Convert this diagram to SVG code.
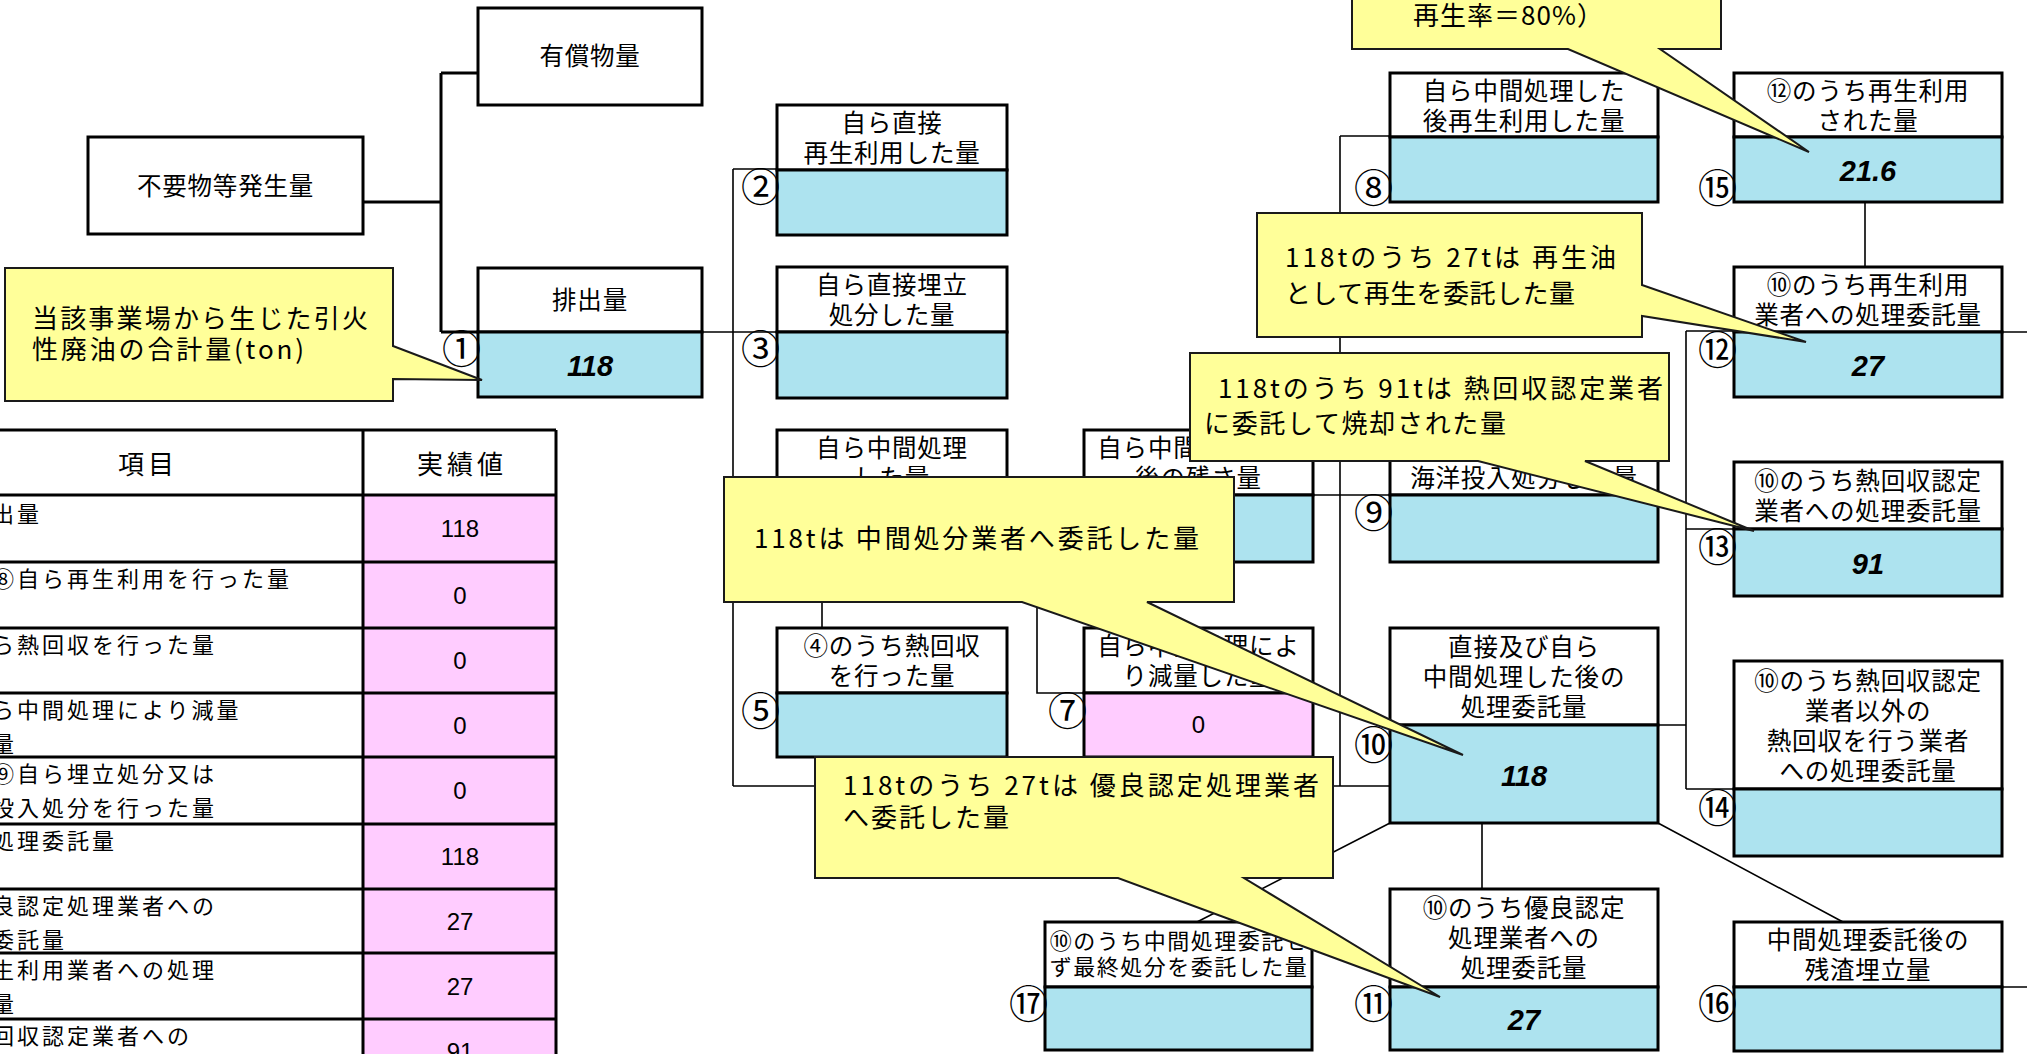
<svg xmlns="http://www.w3.org/2000/svg" width="2027" height="1054" viewBox="0 0 2027 1054">
<style>
.hd{fill:#fff;stroke:#000;stroke-width:3}
.vl{fill:#ADE3EF;stroke:#000;stroke-width:3}
.pk{fill:#FFCCFF;stroke:#000;stroke-width:3}
.c1{stroke:#000;stroke-width:1.6;fill:none}
.c3{stroke:#000;stroke-width:3;fill:none}
.co{fill:#FFFF99;stroke:#1a1a1a;stroke-width:2;stroke-linejoin:miter}
.t{font-family:"Noto Sans CJK JP","Liberation Sans",sans-serif;font-size:24.5px;letter-spacing:0.8px;text-anchor:middle;fill:#000}
.ts{font-family:"Noto Sans CJK JP","Liberation Sans",sans-serif;font-size:22px;letter-spacing:1.5px;text-anchor:middle;fill:#000}
.n{font-family:"Liberation Sans",Arial,sans-serif;font-size:29px;font-weight:bold;font-style:italic;text-anchor:middle;fill:#000}
.lb{font-family:"Noto Sans CJK JP",sans-serif;font-size:39px;text-anchor:end;fill:#000}
.ct{font-family:"Noto Sans CJK JP","Liberation Sans",sans-serif;font-size:26px;fill:#000}
.tb{font-family:"Noto Sans CJK JP",sans-serif;font-size:22px;letter-spacing:3px;fill:#000}
.th{font-family:"Noto Sans CJK JP",sans-serif;font-size:26px;letter-spacing:4px;text-anchor:middle;fill:#000}
.tv{font-family:"Liberation Sans",Arial,sans-serif;font-size:24px;text-anchor:middle;fill:#000}
</style>
<rect x="0" y="0" width="2027" height="1054" fill="#fff"/>

<g id="table">
<rect x="-80" y="430" width="443" height="630" fill="#fff"/>
<rect x="363" y="430" width="193" height="65" fill="#fff"/>
<rect x="363" y="495" width="193" height="565" fill="#FFCCFF"/>
<path stroke="#000" stroke-width="3" fill="none" d="M-80,430 H556 M-80,495 H556 M-80,562 H556 M-80,628 H556 M-80,693 H556 M-80,757 H556 M-80,824 H556 M-80,889 H556 M-80,953 H556 M-80,1019 H556 M363,430 V1060 M556,430 V1060"/>
<text class="th" x="148" y="474">項目</text>
<text class="th" x="462" y="474">実績値</text>
<text class="tb" x="-58" y="522">①排出量</text>
<text class="tb" x="-58" y="587">②＋⑧自ら再生利用を行った量</text>
<text class="tb" x="-58" y="653">⑤自ら熱回収を行った量</text>
<text class="tb" x="-58" y="718">⑦自ら中間処理により減量</text>
<text class="tb" x="-58" y="752">した量</text>
<text class="tb" x="-58" y="782">③＋⑨自ら埋立処分又は</text>
<text class="tb" x="-58" y="816">海洋投入処分を行った量</text>
<text class="tb" x="-33" y="849">⑩処理委託量</text>
<text class="tb" x="-58" y="914">⑪優良認定処理業者への</text>
<text class="tb" x="-58" y="948">処理委託量</text>
<text class="tb" x="-58" y="978">⑫再生利用業者への処理</text>
<text class="tb" x="-58" y="1012">委託量</text>
<text class="tb" x="-58" y="1044">⑬熱回収認定業者への</text>
<text class="tv" x="460" y="537">118</text>
<text class="tv" x="460" y="604">0</text>
<text class="tv" x="460" y="669">0</text>
<text class="tv" x="460" y="734">0</text>
<text class="tv" x="460" y="799">0</text>
<text class="tv" x="460" y="865">118</text>
<text class="tv" x="460" y="930">27</text>
<text class="tv" x="460" y="995">27</text>
<text class="tv" x="460" y="1060">91</text>
</g>

<g id="connectors">
<path class="c3" d="M363,202 H441 M441,73 V332 M441,73 H478 M441,332 H478"/>
<path class="c1" d="M702,332 H777 M733,169 V786 M733,169 H777 M733,495 H777 M733,786 H1390 M1007,495 H1084 M1037,495 V693 H1084 M822,562 V628"/>
<path class="c1" d="M1340,136 V786 M1340,136 H1390 M1313,495 H1390"/>
<path class="c1" d="M1658,725 H1686 M1686,331 V789 M1686,331 H1734 M1686,529 H1734 M1686,789 H1734 M1865,202 V267 M2002,332 H2027 M2002,987 H2027"/>
<path class="c1" d="M1482,823 V889 M1390,823 L1197,922 M1658,823 L1843,922"/>
</g>

<g id="node-yushobutsu"><rect class="hd" x="478" y="8" width="224" height="97"/><text class="t" x="590" y="65">有償物量</text></g>
<g id="node-fuyobutsu"><rect class="hd" x="88" y="137" width="275" height="97"/><text class="t" x="225.5" y="195">不要物等発生量</text></g>

<g id="node-1"><rect class="hd" x="478" y="268" width="224" height="64"/><rect class="vl" x="478" y="332" width="224" height="65"/>
<text class="t" x="590" y="309">排出量</text><text class="n" x="590" y="376">118</text><text class="lb" x="481" y="363">①</text></g>

<g id="node-2"><rect class="hd" x="777" y="105" width="230" height="65"/><rect class="vl" x="777" y="170" width="230" height="65"/>
<text class="t" x="892" y="132">自ら直接</text><text class="t" x="892" y="162">再生利用した量</text><text class="lb" x="780" y="201">②</text></g>

<g id="node-3"><rect class="hd" x="777" y="267" width="230" height="65"/><rect class="vl" x="777" y="332" width="230" height="66"/>
<text class="t" x="892" y="294">自ら直接埋立</text><text class="t" x="892" y="324">処分した量</text><text class="lb" x="780" y="363">③</text></g>

<g id="node-4"><rect class="hd" x="777" y="430" width="230" height="65"/><rect class="vl" x="777" y="495" width="230" height="67"/>
<text class="t" x="892" y="457">自ら中間処理</text><text class="t" x="892" y="487">した量</text></g>

<g id="node-5"><rect class="hd" x="777" y="628" width="230" height="65"/><rect class="vl" x="777" y="693" width="230" height="64"/>
<text class="t" x="892" y="655">④のうち熱回収</text><text class="t" x="892" y="685">を行った量</text><text class="lb" x="780" y="725">⑤</text></g>

<g id="node-6"><rect class="hd" x="1084" y="430" width="229" height="65"/><rect class="vl" x="1084" y="495" width="229" height="67"/>
<text class="t" x="1198.5" y="457">自ら中間処理した</text><text class="t" x="1198.5" y="487">後の残さ量</text></g>

<g id="node-7"><rect class="hd" x="1084" y="628" width="229" height="65"/><rect class="pk" x="1084" y="693" width="229" height="64"/>
<text class="t" x="1198.5" y="655">自ら中間処理によ</text><text class="t" x="1198.5" y="685">り減量した量</text><text class="tv" x="1198.5" y="733">0</text><text class="lb" x="1087" y="725">⑦</text></g>

<g id="node-17"><rect class="hd" x="1045" y="922" width="267" height="65"/><rect class="vl" x="1045" y="987" width="267" height="63"/>
<text class="ts" x="1179" y="949">⑩のうち中間処理委託せ</text><text class="ts" x="1179" y="975">ず最終処分を委託した量</text><text class="lb" x="1048" y="1018">⑰</text></g>

<g id="node-8"><rect class="hd" x="1390" y="73" width="268" height="64"/><rect class="vl" x="1390" y="137" width="268" height="65"/>
<text class="t" x="1524" y="99.5">自ら中間処理した</text><text class="t" x="1524" y="129.5">後再生利用した量</text><text class="lb" x="1393" y="202">⑧</text></g>

<g id="node-9"><rect class="hd" x="1390" y="430" width="268" height="65"/><rect class="vl" x="1390" y="495" width="268" height="67"/>
<text class="t" x="1524" y="487">海洋投入処分した量</text><text class="lb" x="1393" y="527">⑨</text></g>

<g id="node-10"><rect class="hd" x="1390" y="628" width="268" height="97"/><rect class="vl" x="1390" y="725" width="268" height="98"/>
<text class="t" x="1524" y="656">直接及び自ら</text><text class="t" x="1524" y="686">中間処理した後の</text><text class="t" x="1524" y="716">処理委託量</text><text class="n" x="1524" y="786">118</text><text class="lb" x="1393" y="759">⑩</text></g>

<g id="node-11"><rect class="hd" x="1390" y="889" width="268" height="98"/><rect class="vl" x="1390" y="987" width="268" height="63"/>
<text class="t" x="1524" y="917">⑩のうち優良認定</text><text class="t" x="1524" y="947">処理業者への</text><text class="t" x="1524" y="977">処理委託量</text><text class="n" x="1524" y="1030">27</text><text class="lb" x="1393" y="1018">⑪</text></g>

<g id="node-15"><rect class="hd" x="1734" y="73" width="268" height="64"/><rect class="vl" x="1734" y="137" width="268" height="65"/>
<text class="t" x="1868" y="99.5">⑫のうち再生利用</text><text class="t" x="1868" y="129.5">された量</text><text class="n" x="1868" y="181">21.6</text><text class="lb" x="1737" y="202">⑮</text></g>

<g id="node-12"><rect class="hd" x="1734" y="267" width="268" height="65"/><rect class="vl" x="1734" y="332" width="268" height="65"/>
<text class="t" x="1868" y="294">⑩のうち再生利用</text><text class="t" x="1868" y="324">業者への処理委託量</text><text class="n" x="1868" y="376">27</text><text class="lb" x="1737" y="364">⑫</text></g>

<g id="node-13"><rect class="hd" x="1734" y="462" width="268" height="67"/><rect class="vl" x="1734" y="529" width="268" height="67"/>
<text class="t" x="1868" y="490">⑩のうち熱回収認定</text><text class="t" x="1868" y="520">業者への処理委託量</text><text class="n" x="1868" y="574">91</text><text class="lb" x="1737" y="561">⑬</text></g>

<g id="node-14"><rect class="hd" x="1734" y="661" width="268" height="128"/><rect class="vl" x="1734" y="789" width="268" height="67"/>
<text class="t" x="1868" y="690">⑩のうち熱回収認定</text><text class="t" x="1868" y="720">業者以外の</text><text class="t" x="1868" y="750">熱回収を行う業者</text><text class="t" x="1868" y="780">への処理委託量</text><text class="lb" x="1737" y="822">⑭</text></g>

<g id="node-16"><rect class="hd" x="1734" y="922" width="268" height="65"/><rect class="vl" x="1734" y="987" width="268" height="64"/>
<text class="t" x="1868" y="949">中間処理委託後の</text><text class="t" x="1868" y="979">残渣埋立量</text><text class="lb" x="1737" y="1018">⑯</text></g>

<g id="callout-a"><path class="co" d="M5,268 H393 V346 L482,380 L393,379 V401 H5 Z"/>
<text class="ct" x="32" y="328" textLength="336" lengthAdjust="spacing">当該事業場から生じた引火</text>
<text class="ct" x="32" y="359" textLength="272" lengthAdjust="spacing">性廃油の合計量(ton)</text></g>

<g id="callout-b"><path class="co" d="M1352,-5 H1721 V49 H1660 L1809,152 L1568,49 H1352 Z"/>
<text class="ct" x="1413" y="25" textLength="190" lengthAdjust="spacing">再生率＝80%）</text></g>

<g id="callout-c"><path class="co" d="M1257,213 H1642 V285 L1806,342 L1642,316 V337 H1257 Z"/>
<text class="ct" x="1285" y="267" textLength="331" lengthAdjust="spacing">118tのうち 27tは 再生油</text>
<text class="ct" x="1285" y="303" textLength="290" lengthAdjust="spacing">として再生を委託した量</text></g>

<g id="callout-d"><path class="co" d="M1190,353 H1669 V461 H1585 L1754,531 L1478,461 H1190 Z"/>
<text class="ct" x="1218" y="398" textLength="445" lengthAdjust="spacing">118tのうち 91tは 熱回収認定業者</text>
<text class="ct" x="1204" y="433" textLength="302" lengthAdjust="spacing">に委託して焼却された量</text></g>

<g id="callout-e"><path class="co" d="M724,477 H1234 V602 H1147 L1463,755 L1022,602 H724 Z"/>
<text class="ct" x="754" y="548" textLength="445" lengthAdjust="spacing">118tは 中間処分業者へ委託した量</text></g>

<g id="callout-f"><path class="co" d="M815,757 H1333 V878 H1244 L1440,997 L1118,878 H815 Z"/>
<text class="ct" x="843" y="795" textLength="476" lengthAdjust="spacing">118tのうち 27tは 優良認定処理業者</text>
<text class="ct" x="843" y="827" textLength="166" lengthAdjust="spacing">へ委託した量</text></g>
</svg>
